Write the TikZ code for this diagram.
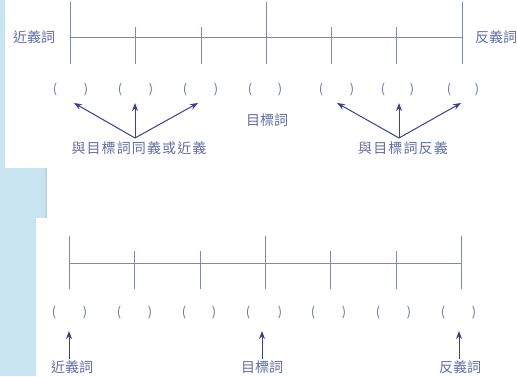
\documentclass[tikz,border=0pt]{standalone}
\usepackage{fontspec}
\newfontfamily\cjk{Noto Sans CJK TC}
\newfontfamily\cjkwide[LetterSpace=8]{Noto Sans CJK TC}
\usetikzlibrary{arrows.meta}
\definecolor{linec}{RGB}{128,136,185}
\definecolor{textc}{RGB}{100,110,165}
\definecolor{arrc}{RGB}{55,65,140}
\definecolor{bgblue}{RGB}{200,228,241}
\definecolor{bgedge}{RGB}{185,215,232}
\tikzset{
  axisline/.style={draw=linec, line width=0.75pt},
  lbl/.style={text=textc, font=\cjk\fontsize{10.5pt}{12pt}\selectfont, inner sep=1pt},
  widelbl/.style={text=textc, font=\cjkwide\fontsize{10.5pt}{12pt}\selectfont, inner sep=1pt},
  paren/.style={text=textc, font=\cjk\fontsize{9.5pt}{11pt}\selectfont, inner sep=0pt},
  arr/.style={draw=arrc, line width=0.75pt, -{Stealth[length=6pt,width=4.5pt]}}
}
\begin{document}
\begin{tikzpicture}[x=0.75pt,y=-0.75pt]
\useasboundingbox (0,0) rectangle (517,376);
% background
\fill[bgblue] (0,0) rectangle (517,376);
\fill[bgedge] (45,168) rectangle (47,218);
\fill[white] (5,0) rectangle (517,168);
\fill[white] (47,168) rectangle (517,218);
\fill[white] (36,218) rectangle (517,376);

% ---------- top diagram ----------
\foreach \i/\x in {1/70,2/135,3/201,4/266,5/331,6/396,7/462}{
  \coordinate (ta\i) at (\x,37);
}
\draw[axisline] (ta1) -- (ta7);
\foreach \i in {1,4,7}{
  \draw[axisline] ([yshift=26pt]ta\i) -- ([yshift=-20pt]ta\i);
}
\foreach \i in {2,3,5,6}{
  \draw[axisline] ([yshift=7.5pt]ta\i) -- ([yshift=-20pt]ta\i);
}
\node[lbl] (tnear) at (34,37) {近義詞};
\node[lbl] (tanti) at (496,37) {反義詞};

\foreach \i/\l/\r in {1/55/86,2/120/151,3/185/216,4/250/280,5/321/352,6/383/412,7/449/477}{
  \node[paren] (tpl\i) at (\l,90) {(};
  \node[paren] (tpr\i) at (\r,90) {)};
}
\node[lbl] (ttarget) at (267,120) {目標詞};

\node[widelbl] (tsyn) at (139,148) {與目標詞同義或近義};
\node[widelbl] (tant) at (403,148) {與目標詞反義};
\coordinate (ts1) at (135,138);
\coordinate (ts2) at (399,138);
\coordinate (tt1) at (74,103);
\coordinate (tt2) at (135,103);
\coordinate (tt3) at (198,103);
\coordinate (tt5) at (337,103);
\coordinate (tt6) at (399,103);
\coordinate (tt7) at (461,103);
\foreach \t in {tt1,tt2,tt3}{ \draw[arr] (ts1) -- (\t); }
\foreach \t in {tt5,tt6,tt7}{ \draw[arr] (ts2) -- (\t); }

% ---------- bottom diagram ----------
\foreach \i/\x in {1/69,2/134,3/200,4/265,5/330,6/396,7/461}{
  \coordinate (ba\i) at (\x,263);
}
\draw[axisline] (ba1) -- (ba7);
\foreach \i in {1,4,7}{
  \draw[axisline] ([yshift=20pt]ba\i) -- ([yshift=-19.5pt]ba\i);
}
\foreach \i in {2,3,5,6}{
  \draw[axisline] ([yshift=9pt]ba\i) -- ([yshift=-19.5pt]ba\i);
}
\foreach \i/\l/\r in {1/54/85,2/119/150,3/184/214,4/248/280,5/313/344,6/378/409,7/443/474}{
  \node[paren] (bpl\i) at (\l,313) {(};
  \node[paren] (bpr\i) at (\r,313) {)};
}
\node[lbl] (bnear) at (72,367) {近義詞};
\node[lbl] (btarget) at (262,367) {目標詞};
\node[lbl] (banti) at (460,367) {反義詞};
\coordinate (bt1) at (69,331);
\coordinate (bt4) at (262,331);
\coordinate (bt7) at (459,331);
\draw[arr] (bnear.north -| bt1) -- (bt1);
\draw[arr] (btarget.north -| bt4) -- (bt4);
\draw[arr] (banti.north -| bt7) -- (bt7);
\end{tikzpicture}
\end{document}
